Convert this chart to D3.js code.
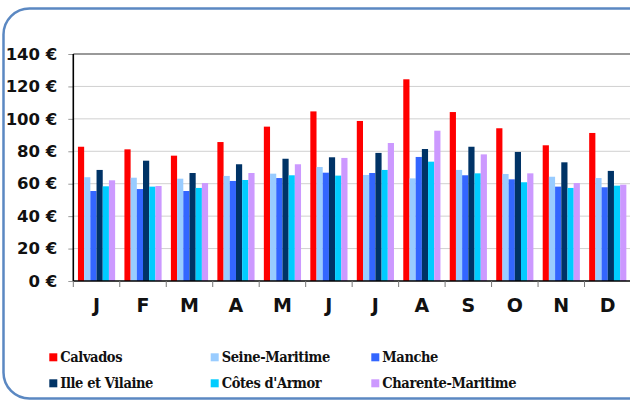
<!DOCTYPE html>
<html>
<head>
<meta charset="utf-8">
<script src="https://cdn.jsdelivr.net/npm/d3@7"></script>
<style>
  body { margin: 0; background: #fff; }
  svg { display: block; }
</style>
</head>
<body>
<div id="chart"></div>
<script>
// data
var months = ["J", "F", "M", "A", "M", "J", "J", "A", "S", "O", "N", "D"];
var departements = ["Calvados", "Seine-Maritime", "Manche", "Ille et Vilaine", "Côtes d'Armor", "Charente-Maritime"];
var calvados        = [82.8, 81.2, 77.3, 85.7, 95.2, 104.6, 98.7, 124.4, 104.2, 94.2, 83.7, 91.3];
var seineMaritime   = [64.0, 63.7, 63.1, 64.8, 66.2, 70.3, 65.4, 63.3, 68.5, 66.0, 64.3, 63.5];
var manche          = [55.5, 56.7, 55.5, 61.7, 63.5, 66.8, 66.6, 76.5, 65.2, 62.7, 58.2, 57.8];
var illeEtVilaine   = [68.5, 74.2, 66.6, 72.0, 75.4, 76.3, 79.0, 81.4, 82.8, 79.6, 73.2, 67.9];
var cotesArmor      = [58.4, 58.2, 57.4, 62.3, 65.2, 65.0, 68.5, 73.6, 66.4, 60.9, 57.4, 58.8];
var charenteMaritime= [62.1, 58.6, 60.4, 66.6, 72.0, 75.9, 85.1, 92.7, 78.1, 66.4, 60.4, 59.4];
var yTicks = [0, 20, 40, 60, 80, 100, 120, 140];
var colours = ["#FF0000", "#99CCFF", "#3366FF", "#003366", "#00CCFF", "#CC99FF"];

var series = [calvados, seineMaritime, manche, illeEtVilaine, cotesArmor, charenteMaritime];

var W = 630, H = 403;
var margin = {left: 73.3, top: 54, right: -1, bottom: 122};
var width = W - margin.left - margin.right,
    height = H - margin.top - margin.bottom;

var svg = d3.select("#chart").append("svg")
    .attr("width", W)
    .attr("height", H);

// rounded frame
svg.append("rect")
    .attr("x", 3.5).attr("y", 8.5)
    .attr("width", 700).attr("height", 390)
    .attr("rx", 26).attr("ry", 26)
    .attr("fill", "none")
    .attr("stroke", "#5B88C2")
    .attr("stroke-width", 2.5);

var g = svg.append("g")
    .attr("transform", "translate(" + margin.left + "," + margin.top + ")");

var idx = d3.range(months.length);
var x0 = d3.scaleBand().domain(idx).range([0, width]).paddingInner(0.2).paddingOuter(0.1);
var x1 = d3.scaleBand().domain(d3.range(series.length)).range([0, x0.bandwidth()]);
var y = d3.scaleLinear().domain([0, 140]).range([height, 0]);
var step = x0.step();

// gridlines
g.selectAll(".grid")
    .data(yTicks.filter(function(d) { return d > 0 && d < 140; }))
  .enter().append("line")
    .attr("x1", 0).attr("x2", width)
    .attr("y1", function(d) { return y(d); })
    .attr("y2", function(d) { return y(d); })
    .attr("stroke", "#D0D0D0")
    .attr("stroke-width", 1);

// top line
g.append("line")
    .attr("x1", 0).attr("x2", width)
    .attr("y1", y(140)).attr("y2", y(140))
    .attr("stroke", "#999")
    .attr("stroke-width", 2);

// y axis
var yAxis = g.append("g")
    .call(d3.axisLeft(y).tickValues(yTicks).tickSize(5).tickPadding(11)
        .tickFormat(function(d) { return d + " €"; }));
yAxis.select(".domain").remove();
yAxis.selectAll(".tick line").attr("stroke", "#999");
yAxis.selectAll(".tick text")
    .attr("fill", "#111")
    .style("font-family", "'DejaVu Sans', sans-serif")
    .style("font-weight", "bold")
    .style("font-size", "16.5px");

// bars
series.forEach(function(s, i) {
  g.selectAll(".bar" + i)
      .data(s)
    .enter().append("rect")
      .attr("x", function(d, j) { return x0(j) + x1(i); })
      .attr("y", function(d) { return y(d); })
      .attr("width", x1.bandwidth())
      .attr("height", function(d) { return height - y(d); })
      .attr("fill", colours[i]);
});

// axis lines
g.append("line")
    .attr("x1", 0).attr("x2", 0)
    .attr("y1", y(140)).attr("y2", height)
    .attr("stroke", "#000").attr("stroke-width", 1.6);
g.append("line")
    .attr("x1", 0).attr("x2", width)
    .attr("y1", height).attr("y2", height)
    .attr("stroke", "#000").attr("stroke-width", 1.6);

// category ticks between groups
g.selectAll(".xtick")
    .data(d3.range(months.length + 1))
  .enter().append("line")
    .attr("x1", function(d) { return d * step; })
    .attr("x2", function(d) { return d * step; })
    .attr("y1", height).attr("y2", height + 6)
    .attr("stroke", "#777");

g.selectAll(".xlabel")
    .data(months)
  .enter().append("text")
    .attr("x", function(d, j) { return x0(j) + x0.bandwidth() / 2; })
    .attr("y", height + 31)
    .attr("text-anchor", "middle")
    .style("font-family", "'DejaVu Sans', sans-serif")
    .style("font-weight", "bold")
    .style("font-size", "19px")
    .attr("fill", "#111")
    .text(function(d) { return d; });

// legend
var legendX = [49.3, 210.7, 371.3],
    legendY = [353.3, 379.3];
var legend = svg.selectAll(".legend")
    .data(departements)
  .enter().append("g")
    .attr("transform", function(d, i) {
      return "translate(" + legendX[i % 3] + "," + legendY[Math.floor(i / 3)] + ")";
    });
legend.append("rect")
    .attr("width", 8).attr("height", 8)
    .attr("fill", function(d, i) { return colours[i]; });
legend.append("text")
    .attr("x", 11).attr("y", 9)
    .style("font-family", "'DejaVu Serif', serif")
    .style("font-stretch", "condensed")
    .style("font-weight", "bold")
    .style("font-size", "14.5px")
    .style("letter-spacing", "-0.4px")
    .attr("fill", "#111")
    .text(function(d) { return d; });
</script>
</body>
</html>
